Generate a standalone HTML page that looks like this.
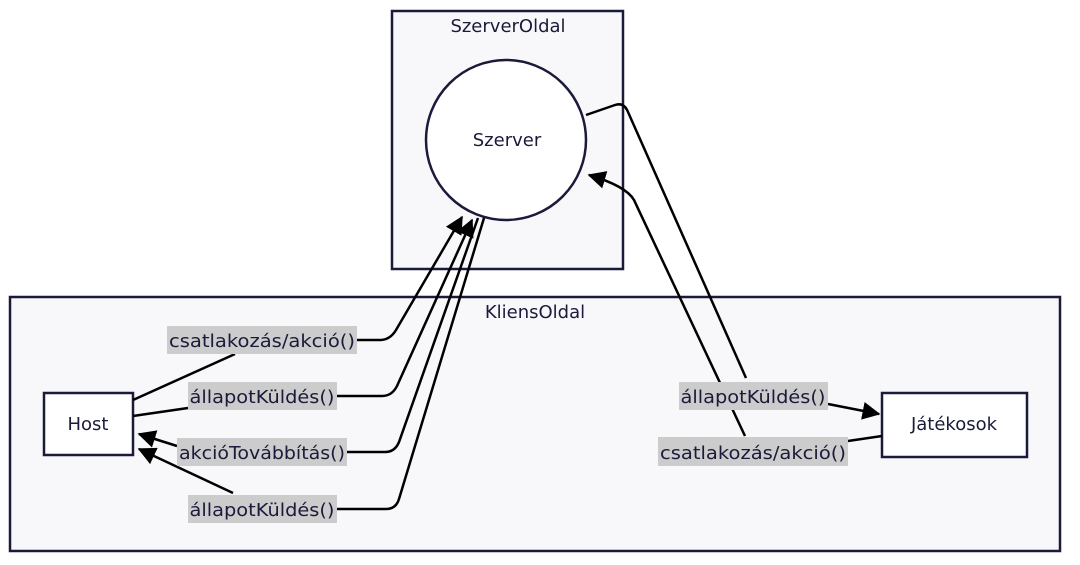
<!DOCTYPE html>
<html><head><meta charset="utf-8"><style>
html,body{margin:0;padding:0;background:#fff;}
svg{display:block;}
svg text{font-family:"DejaVu Sans","Liberation Sans",sans-serif;font-size:18px;fill:#1a1a3a;}
</style></head><body>
<svg width="1080" height="565" viewBox="0 0 1080 565" xmlns="http://www.w3.org/2000/svg">
<defs>
<marker id="ar" viewBox="0 0 12 12" refX="11" refY="6" markerWidth="18" markerHeight="18" orient="auto" markerUnits="userSpaceOnUse">
<path d="M0,0 L12,6 L0,12 Z" fill="#000"/>
</marker>
</defs>
<rect x="392" y="11" width="231" height="258" fill="#f8f8fb" stroke="#1a1a3a" stroke-width="2.5"/>
<text x="508" y="32" text-anchor="middle" font-size="18">SzerverOldal</text>
<rect x="10" y="297" width="1050" height="254" fill="#f8f8fb" stroke="#1a1a3a" stroke-width="2.5"/>
<text x="535" y="318" text-anchor="middle" font-size="18">KliensOldal</text>
<circle cx="506" cy="140" r="80" fill="#fff" stroke="#1a1a3a" stroke-width="2.5"/>
<text x="507" y="146" text-anchor="middle" font-size="18">Szerver</text>
<rect x="44" y="393" width="89" height="62" fill="#fff" stroke="#1a1a3a" stroke-width="2.5"/>
<text x="88" y="430" text-anchor="middle" font-size="18">Host</text>
<rect x="882" y="393" width="145" height="64" fill="#fff" stroke="#1a1a3a" stroke-width="2.5"/>
<text x="954" y="430" text-anchor="middle" font-size="18">Játékosok</text>
<g fill="none" stroke="#000" stroke-width="2.5">
<path d="M133,400 L235,354"/>
<path d="M357,340 L380,340 Q390,340 396,330 L462,217" marker-end="url(#ar)"/>
<path d="M133,416 L188,408"/>
<path d="M337,396 L382,396 Q392,396 397,386 L472,220" marker-end="url(#ar)"/>
<path d="M478,218 L399,442 Q395,452 385,452 L347,452"/>
<path d="M177,446 L139,434" marker-end="url(#ar)"/>
<path d="M484,218 L399,499 Q396,509 386,509 L337,509"/>
<path d="M233,493 L139,449" marker-end="url(#ar)"/>
<path d="M586,115 L615,105 Q624,102 628,112 L746,378"/>
<path d="M828,404 L879,414" marker-end="url(#ar)"/>
<path d="M882,436 L848,441"/>
<path d="M745,436 L634,200 Q626,186 589,175" marker-end="url(#ar)"/>
</g>
<g fill="#cccccc">
<rect x="167" y="326" width="190" height="28"/>
<rect x="188" y="382" width="149" height="28"/>
<rect x="177" y="438" width="170" height="28"/>
<rect x="188" y="495" width="149" height="28"/>
<rect x="679" y="382" width="149" height="28"/>
<rect x="658" y="437" width="190" height="29"/>
</g>
<text x="262" y="347" text-anchor="middle" font-size="18" textLength="186" lengthAdjust="spacingAndGlyphs">csatlakozás/akció()</text>
<text x="262" y="403" text-anchor="middle" font-size="18" textLength="145" lengthAdjust="spacingAndGlyphs">állapotKüldés()</text>
<text x="262" y="459" text-anchor="middle" font-size="18" textLength="166" lengthAdjust="spacingAndGlyphs">akcióTovábbítás()</text>
<text x="262" y="516" text-anchor="middle" font-size="18" textLength="145" lengthAdjust="spacingAndGlyphs">állapotKüldés()</text>
<text x="753" y="403" text-anchor="middle" font-size="18" textLength="145" lengthAdjust="spacingAndGlyphs">állapotKüldés()</text>
<text x="753" y="459" text-anchor="middle" font-size="18" textLength="186" lengthAdjust="spacingAndGlyphs">csatlakozás/akció()</text>
</svg>
</body></html>
